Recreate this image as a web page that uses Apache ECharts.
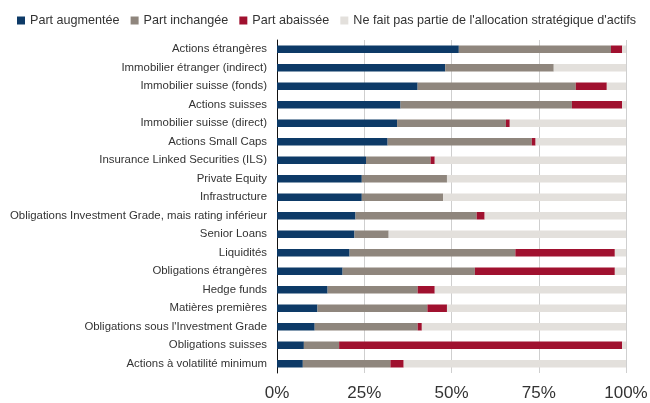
<!DOCTYPE html>
<html>
<head>
<meta charset="utf-8">
<script src="https://cdn.jsdelivr.net/npm/echarts@6/dist/echarts.min.js"></script>
<style>
  html, body { margin: 0; padding: 0; background: #fff; }
  #chart { width: 650px; height: 403px; }
</style>
</head>
<body>
<div id="chart"></div>
<script>
const categories = [
  'Actions étrangères',
  'Immobilier étranger (indirect)',
  'Immobilier suisse (fonds)',
  'Actions suisses',
  'Immobilier suisse (direct)',
  'Actions Small Caps',
  'Insurance Linked Securities (ILS)',
  'Private Equity',
  'Infrastructure',
  'Obligations Investment Grade, mais rating inférieur',
  'Senior Loans',
  'Liquidités',
  'Obligations étrangères',
  'Hedge funds',
  'Matières premières',
  'Obligations sous l\'Investment Grade',
  'Obligations suisses',
  'Actions à volatilité minimum'
];

const augmentee = [52.1, 48.2, 40.3, 35.4, 34.4, 31.7, 25.5, 24.3, 24.3, 22.5, 22.2, 20.8, 18.8, 14.5, 11.6, 10.8, 7.7, 7.4];
const inchangee = [43.6, 31.1, 45.3, 49.1, 31.2, 41.3, 18.5, 24.4, 23.3, 34.7, 9.8, 47.5, 37.9, 25.8, 31.5, 29.5, 10.1, 25.1];
const abaissee = [3.2, 0, 8.9, 14.4, 1.1, 1.1, 1.2, 0, 0, 2.3, 0, 28.5, 40.1, 4.9, 5.6, 1.2, 81.1, 3.8];
const horsAllocation = [1.1, 20.7, 5.5, 1.1, 33.3, 25.9, 54.8, 51.3, 52.4, 40.5, 68.0, 3.2, 3.2, 54.8, 51.3, 58.5, 1.1, 63.7];

const xTicks = [0, 25, 50, 75, 100];

const seriesDefs = [
  { name: 'Part augmentée', data: augmentee, color: '#0d3a67' },
  { name: 'Part inchangée', data: inchangee, color: '#8f867d' },
  { name: 'Part abaissée', data: abaissee, color: '#a0112f' },
  { name: 'Ne fait pas partie de l\'allocation stratégique d\'actifs', data: horsAllocation, color: '#e3e0dc' }
];

const font = 'Liberation Sans, Arial, sans-serif';
const chart = echarts.init(document.getElementById('chart'));

chart.setOption({
  animation: false,
  legend: {
    top: 14,
    left: 17,
    padding: 0,
    width: 640,
    itemWidth: 8,
    itemHeight: 8,
    itemGap: 11,
    icon: 'rect',
    textStyle: { fontFamily: font, fontSize: 12.6, color: '#333' },
    data: seriesDefs.map((s) => s.name)
  },
  grid: {
    left: 277,
    right: 24,
    top: 40,
    bottom: 30,
    outerBoundsMode: 'none'
  },
  xAxis: {
    type: 'value',
    min: xTicks[0],
    max: xTicks[xTicks.length - 1],
    interval: 25,
    axisLine: { show: false },
    axisTick: { show: false },
    splitLine: { lineStyle: { color: '#cfcfcf', width: 1 } },
    axisLabel: {
      formatter: '{value}%',
      fontFamily: font,
      fontSize: 17,
      color: '#333',
      margin: 12
    }
  },
  yAxis: {
    type: 'category',
    inverse: true,
    data: categories,
    axisLine: { lineStyle: { color: '#111', width: 1 } },
    axisTick: { length: 5, lineStyle: { color: '#111' } },
    axisLabel: {
      fontFamily: font,
      fontSize: 11.4,
      color: '#333',
      margin: 10
    }
  },
  series: seriesDefs.map((s) => ({
    name: s.name,
    type: 'bar',
    stack: 'total',
    barWidth: 7.5,
    itemStyle: { color: s.color },
    data: s.data
  }))
});
</script>
</body>
</html>
